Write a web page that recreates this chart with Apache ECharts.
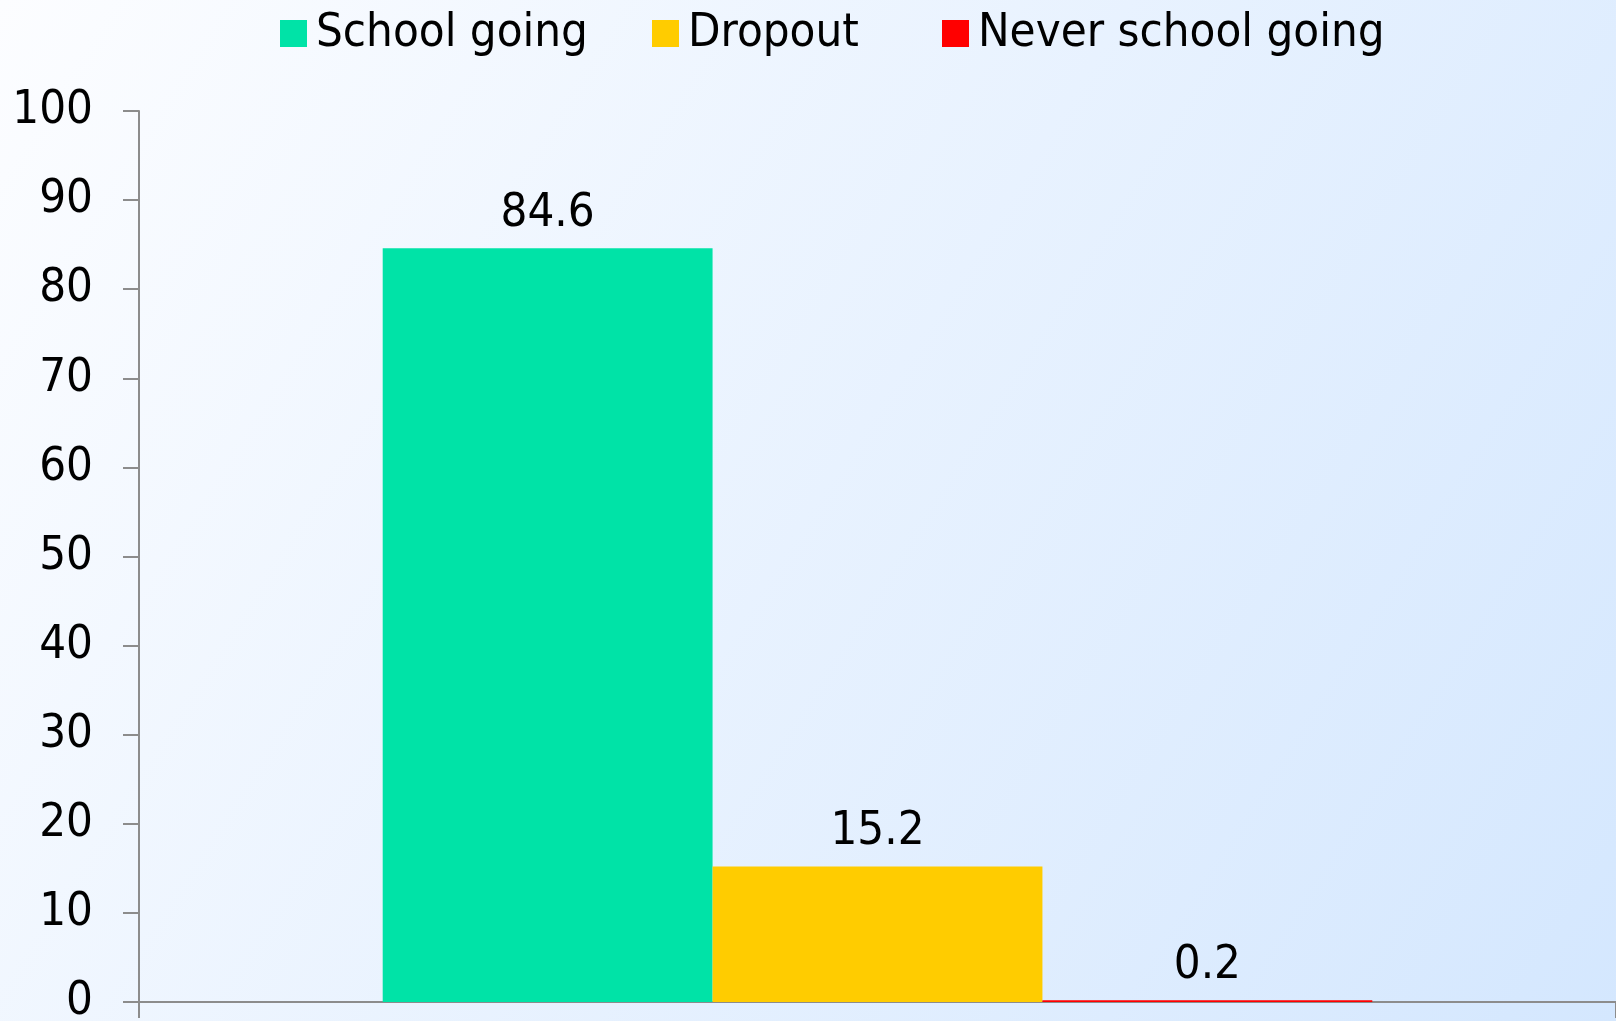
<!DOCTYPE html>
<html>
<head>
<meta charset="utf-8">
<script src="https://cdn.jsdelivr.net/npm/echarts@6/dist/echarts.min.js"></script>
<style>
  html, body { margin: 0; padding: 0; }
  #chart { width: 1616px; height: 1021px; }
</style>
</head>
<body>
<div id="chart"></div>
<script>
// data
const categories = [''];
const seriesNames = ['School going', 'Dropout', 'Never school going'];
const seriesValues = [[84.6], [15.2], [0.2]];
const seriesColors = ['#00e3a7', '#ffcc00', '#ff0000'];

// legend item left positions (Excel spaces them unevenly)
const legendLefts = [280, 652, 942];

const FONT = '"DejaVu Sans Condensed", "DejaVu Sans", sans-serif';

const chart = echarts.init(document.getElementById('chart'));

chart.setOption({
    backgroundColor: new echarts.graphic.LinearGradient(0, 0, 1, 1, [
        { offset: 0, color: '#fcfdff' },
        { offset: 1, color: '#d4e7fe' }
    ]),
    textStyle: { fontFamily: FONT },
    legend: seriesNames.map((name, i) => ({
        top: 10,
        left: legendLefts[i],
        icon: 'rect',
        itemWidth: 27,
        itemHeight: 27,
        padding: 0,
        textStyle: { fontSize: 47, color: '#000', fontFamily: FONT, padding: [0, 0, 0, 4] },
        data: [name]
    })),
    grid: { left: 139, right: 0, top: 111, bottom: 19, containLabel: false, outerBoundsMode: 'none' },
    xAxis: {
        type: 'category',
        data: categories,
        axisLine: { lineStyle: { color: '#8c8c8c', width: 2 } },
        axisTick: { show: true, length: 16, lineStyle: { color: '#8c8c8c', width: 2 } },
        axisLabel: { show: false }
    },
    yAxis: {
        type: 'value',
        min: 0,
        max: 100,
        interval: 10,
        axisLine: { show: true, lineStyle: { color: '#8c8c8c', width: 2 } },
        axisTick: { show: true, length: 16, lineStyle: { color: '#8c8c8c', width: 2 } },
        splitLine: { show: false },
        axisLabel: { color: '#000', fontSize: 47, fontFamily: FONT, margin: 46, verticalAlign: 'middle', lineHeight: 47, padding: [22, 0, 0, 0] }
    },
    series: seriesNames.map((name, i) => ({
        name: name,
        type: 'bar',
        data: seriesValues[i],
        barGap: '0%',
        barCategoryGap: '33%',
        itemStyle: { color: seriesColors[i] },
        label: {
            show: true,
            position: 'top',
            distance: 11,
            color: '#000',
            fontSize: 47,
            fontFamily: FONT
        }
    }))
});

window.onresize = () => chart.resize();
</script>
</body>
</html>
